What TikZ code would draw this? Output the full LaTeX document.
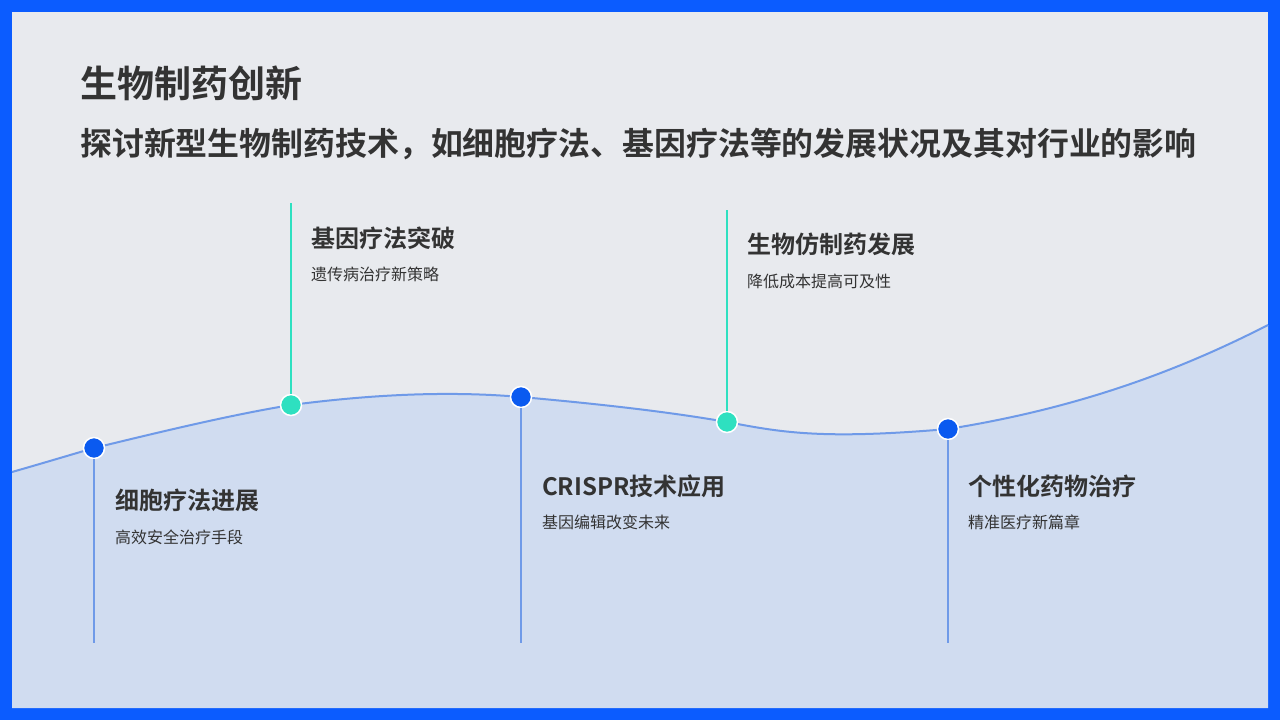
\documentclass[tikz,border=0pt]{standalone}
\usepackage{fontspec}
\setmainfont{Noto Sans CJK SC}
\newfontfamily\cjkb{Noto Sans CJK SC Bold}
\definecolor{frame}{HTML}{0B5CFF}
\definecolor{bg}{HTML}{E8EAEE}
\definecolor{wave}{HTML}{D0DCF0}
\definecolor{waveline}{HTML}{6F9AE8}
\definecolor{dotblue}{HTML}{0A5AF0}
\definecolor{dotteal}{HTML}{2EE0C0}
\definecolor{txt}{HTML}{333333}
\begin{document}
\begin{tikzpicture}[x=1pt,y=-1pt,
  hd/.style={anchor=west,text=txt,font=\cjkb\fontsize{24}{27}\selectfont,inner sep=0},
  sb/.style={anchor=west,text=txt,font=\fontsize{16}{19}\selectfont,inner sep=0},
  dotb/.style={circle,fill=dotblue,draw=white,line width=1.5pt,minimum size=21pt,inner sep=0},
  dott/.style={circle,fill=dotteal,draw=white,line width=1.5pt,minimum size=21pt,inner sep=0},
  vb/.style={draw=waveline,line width=1.2pt},
  vt/.style={draw=dotteal,line width=1.2pt}]
\useasboundingbox (0,0) rectangle (1280,720);
\fill[frame] (0,0) rectangle (1280,720);
\fill[bg] (12,12) rectangle (1268,708);
\fill[wave] (12,472) .. controls (40,464) and (70,455) .. (94,448)
  .. controls (160,432) and (230,415) .. (291,405)
  .. controls (360,396) and (440,390) .. (521,397)
  .. controls (600,404) and (670,412) .. (727,422)
  .. controls (780,432) and (820,440) .. (948,429)
  .. controls (1080,408) and (1180,370) .. (1268,325)
  -- (1268,708) -- (12,708) -- cycle;
\draw[waveline,line width=2pt] (12,472) .. controls (40,464) and (70,455) .. (94,448)
  .. controls (160,432) and (230,415) .. (291,405)
  .. controls (360,396) and (440,390) .. (521,397)
  .. controls (600,404) and (670,412) .. (727,422)
  .. controls (780,432) and (820,440) .. (948,429)
  .. controls (1080,408) and (1180,370) .. (1268,325);
\node[anchor=west,text=txt,font=\cjkb\fontsize{37}{40}\selectfont,inner sep=0] (title) at (80,83) {生物制药创新};
\node[anchor=west,text=txt,font=\cjkb\fontsize{31.9}{35}\selectfont,inner sep=0] (sub) at (80,144) {探讨新型生物制药技术，如细胞疗法、基因疗法等的发展状况及其对行业的影响};
\coordinate (e1) at (94,643); \coordinate (e2) at (291,203); \coordinate (e3) at (521,643);
\coordinate (e4) at (727,210); \coordinate (e5) at (948,643);
\node[dotb] (d1) at (94,448) {}; \node[dott] (d2) at (291,405) {};
\node[dotb] (d3) at (521,397) {}; \node[dott] (d4) at (727,422) {};
\node[dotb] (d5) at (948,429) {};
\draw[vb] (d1) -- (e1); \draw[vt] (d2) -- (e2); \draw[vb] (d3) -- (e3);
\draw[vt] (d4) -- (e4); \draw[vb] (d5) -- (e5);
\node[hd] (h1) at (115,500) {细胞疗法进展}; \node[sb] (s1) at (115,537) {高效安全治疗手段};
\node[hd] (h2) at (311,238) {基因疗法突破}; \node[sb] (s2) at (311,274) {遗传病治疗新策略};
\node[hd] (h3) at (542,486) {CRISPR技术应用}; \node[sb] (s3) at (542,522) {基因编辑改变未来};
\node[hd] (h4) at (747,244) {生物仿制药发展}; \node[sb] (s4) at (747,281) {降低成本提高可及性};
\node[hd] (h5) at (968,486) {个性化药物治疗}; \node[sb] (s5) at (968,522) {精准医疗新篇章};
\end{tikzpicture}
\end{document}
